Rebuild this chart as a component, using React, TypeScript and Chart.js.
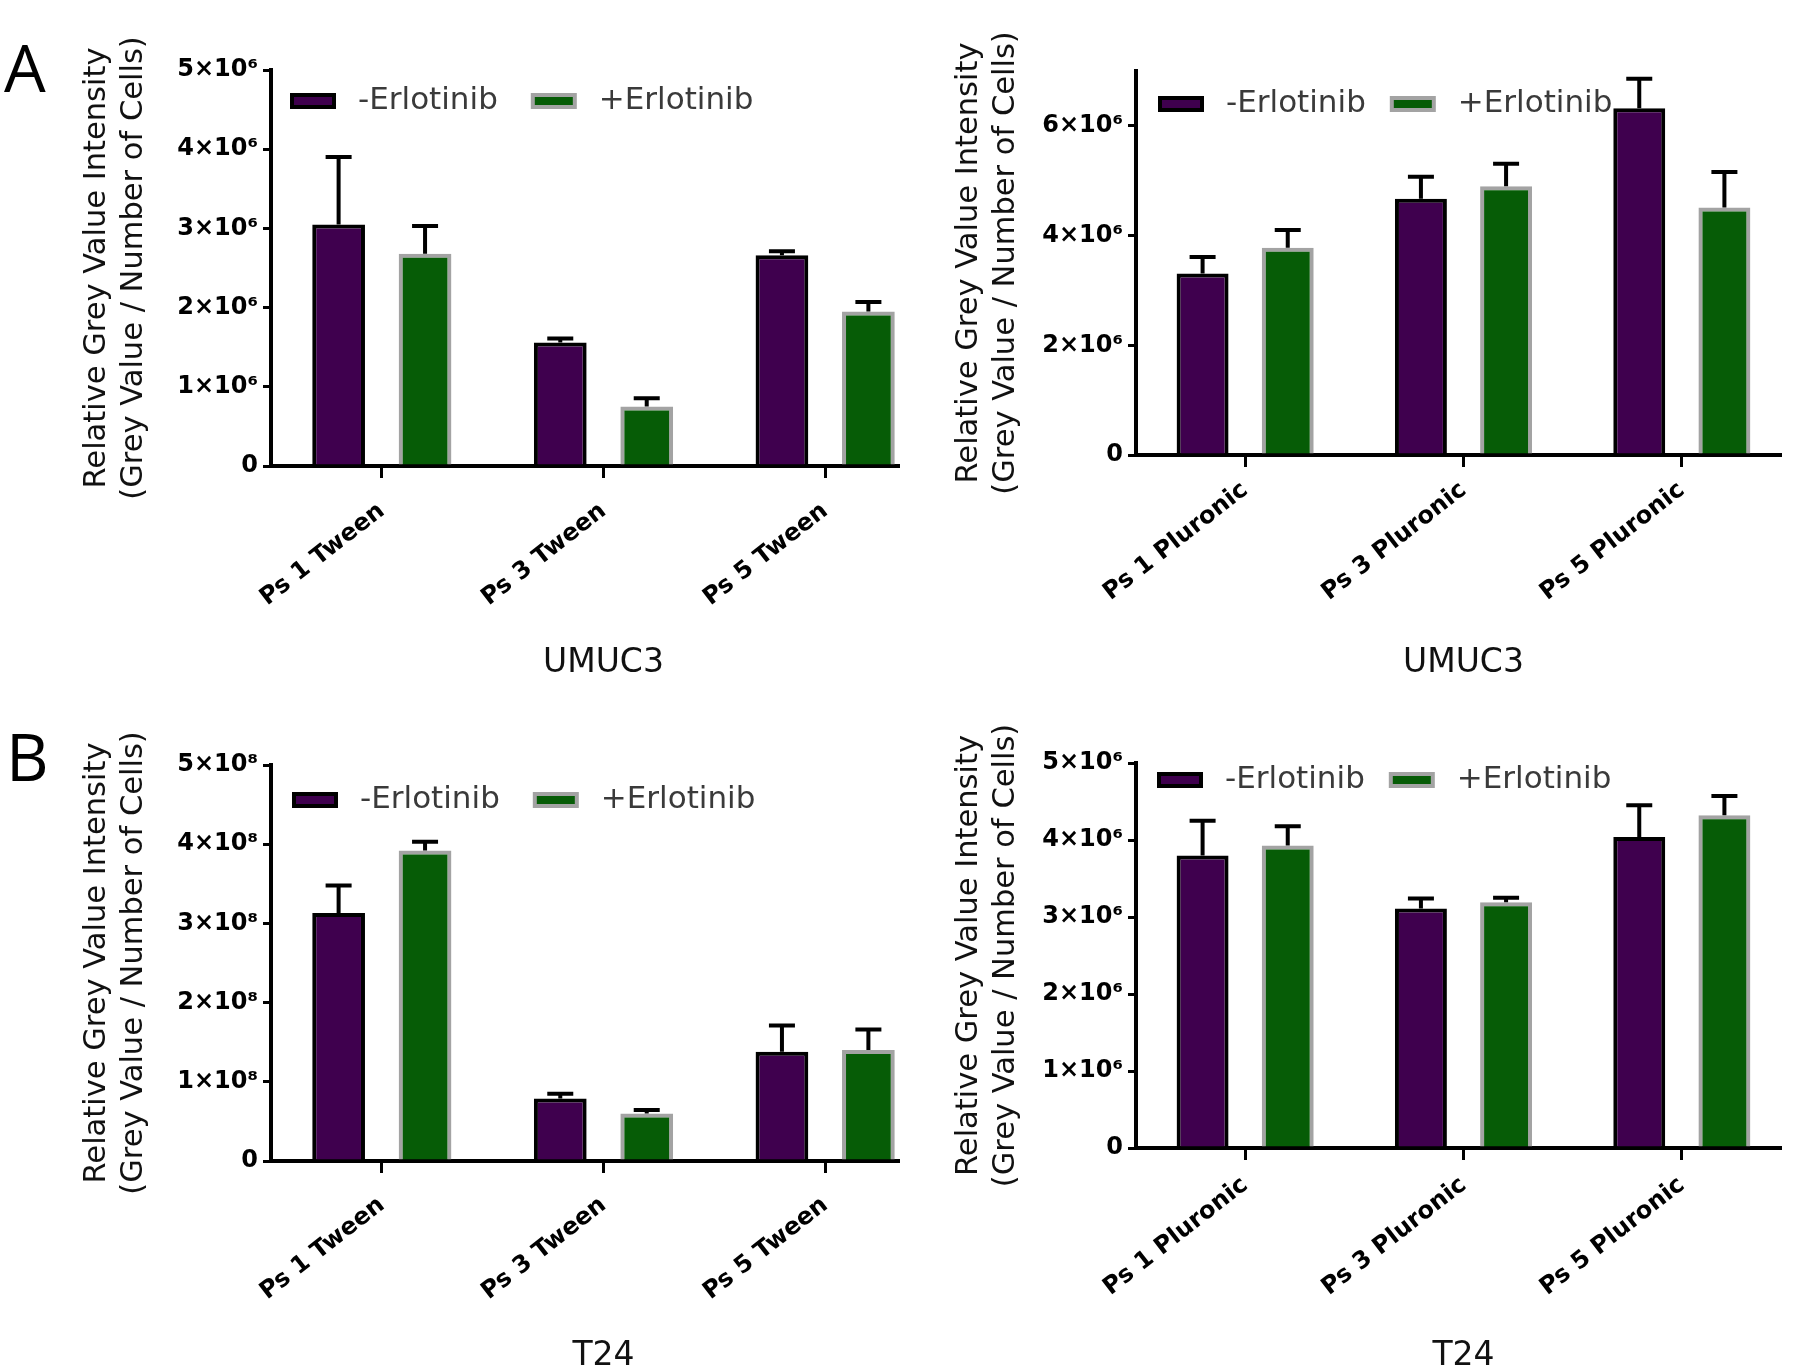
import React, { useEffect, useRef } from 'react';
import { Chart, registerables } from 'chart.js';

Chart.register(...registerables);

// ---------- data ----------
const seriesLabels = ['-Erlotinib', '+Erlotinib'];
const tweenCategories = ['Ps 1 Tween', 'Ps 3 Tween', 'Ps 5 Tween'];
const pluronicCategories = ['Ps 1 Pluronic', 'Ps 3 Pluronic', 'Ps 5 Pluronic'];

// A (left): UMUC3, Tween
const umucTweenMinus = [3.05e6, 1.56e6, 2.66e6];
const umucTweenMinusErr = [0.85e6, 0.05e6, 0.05e6];
const umucTweenPlus = [2.68e6, 0.75e6, 1.95e6];
const umucTweenPlusErr = [0.35e6, 0.105e6, 0.12e6];
const umucTweenTicks = [0, 1e6, 2e6, 3e6, 4e6, 5e6];
const umucTweenTickLabels = ['0', '1×10⁶', '2×10⁶', '3×10⁶', '4×10⁶', '5×10⁶'];

// A (right): UMUC3, Pluronic
const umucPluronicMinus = [3.31e6, 4.67e6, 6.32e6];
const umucPluronicMinusErr = [0.3e6, 0.4e6, 0.54e6];
const umucPluronicPlus = [3.78e6, 4.9e6, 4.51e6];
const umucPluronicPlusErr = [0.32e6, 0.41e6, 0.65e6];
const umucPluronicTicks = [0, 2e6, 4e6, 6e6];
const umucPluronicTickLabels = ['0', '2×10⁶', '4×10⁶', '6×10⁶'];

// B (left): T24, Tween
const t24TweenMinus = [3.13e8, 0.79e8, 1.38e8];
const t24TweenMinusErr = [0.35e8, 0.06e8, 0.33e8];
const t24TweenPlus = [3.92e8, 0.6e8, 1.4e8];
const t24TweenPlusErr = [0.11e8, 0.045e8, 0.26e8];
const t24TweenTicks = [0, 1e8, 2e8, 3e8, 4e8, 5e8];
const t24TweenTickLabels = ['0', '1×10⁸', '2×10⁸', '3×10⁸', '4×10⁸', '5×10⁸'];

// B (right): T24, Pluronic
const t24PluronicMinus = [3.8e6, 3.11e6, 4.04e6];
const t24PluronicMinusErr = [0.45e6, 0.13e6, 0.41e6];
const t24PluronicPlus = [3.93e6, 3.19e6, 4.32e6];
const t24PluronicPlusErr = [0.25e6, 0.06e6, 0.25e6];
const t24PluronicTicks = [0, 1e6, 2e6, 3e6, 4e6, 5e6];
const t24PluronicTickLabels = ['0', '1×10⁶', '2×10⁶', '3×10⁶', '4×10⁶', '5×10⁶'];

const yTitleLines = ['Relative Grey Value Intensity', '(Grey Value / Number of Cells)'];

// ---------- styles ----------
const PURPLE = '#3f004e';
const GREEN = '#065c06';
const GREEN_EDGE = '#a3a3a3';
const FONT = 'DejaVu Sans';

type Panel = {
  key: string;
  boxLeft: number; boxTop: number; boxWidth: number; boxHeight: number;
  canvasWidth: number; canvasHeight: number;
  area: { left: number; top: number; right: number; bottom: number };
  categories: string[];
  minus: number[]; minusErr: number[];
  plus: number[]; plusErr: number[];
  yMax: number; ticks: number[]; tickLabels: string[];
  xTitle: string;
  yTitlePad: number;
  xTitlePad: number; xTitleLH: number;
  xTickPad: number;
  legendDx: number; legendDy: number; legendGap: number;
};

const panels: Panel[] = [
  {
    key: 'a-left', boxLeft: 0, boxTop: 0, boxWidth: 900, boxHeight: 683,
    canvasWidth: 960, canvasHeight: 683,
    area: { left: 271, top: 70, right: 936, bottom: 466 },
    categories: tweenCategories,
    minus: umucTweenMinus, minusErr: umucTweenMinusErr,
    plus: umucTweenPlus, plusErr: umucTweenPlusErr,
    yMax: 5e6, ticks: umucTweenTicks, tickLabels: umucTweenTickLabels,
    xTitle: 'UMUC3', yTitlePad: 79, xTitlePad: 0, xTitleLH: 1.2, xTickPad: 19,
    legendDx: 19, legendDy: 31, legendGap: 33,
  },
  {
    key: 'a-right', boxLeft: 900, boxTop: 0, boxWidth: 882, boxHeight: 683,
    canvasWidth: 900, canvasHeight: 683,
    area: { left: 236, top: 71, right: 891, bottom: 455 },
    categories: pluronicCategories,
    minus: umucPluronicMinus, minusErr: umucPluronicMinusErr,
    plus: umucPluronicPlus, plusErr: umucPluronicPlusErr,
    yMax: 7e6, ticks: umucPluronicTicks, tickLabels: umucPluronicTickLabels,
    xTitle: 'UMUC3', yTitlePad: 51, xTitlePad: 0, xTitleLH: 1.2, xTickPad: 9,
    legendDx: 22, legendDy: 33, legendGap: 24,
  },
  {
    key: 'b-left', boxLeft: 0, boxTop: 683, boxWidth: 900, boxHeight: 684,
    canvasWidth: 960, canvasHeight: 684,
    area: { left: 271, top: 82, right: 936, bottom: 478 },
    categories: tweenCategories,
    minus: t24TweenMinus, minusErr: t24TweenMinusErr,
    plus: t24TweenPlus, plusErr: t24TweenPlusErr,
    yMax: 5e8, ticks: t24TweenTicks, tickLabels: t24TweenTickLabels,
    xTitle: 'T24', yTitlePad: 79, xTitlePad: 1, xTitleLH: 0.6, xTickPad: 18,
    legendDx: 21, legendDy: 35, legendGap: 33,
  },
  {
    key: 'b-right', boxLeft: 900, boxTop: 683, boxWidth: 882, boxHeight: 684,
    canvasWidth: 900, canvasHeight: 684,
    area: { left: 236, top: 80, right: 891, bottom: 465 },
    categories: pluronicCategories,
    minus: t24PluronicMinus, minusErr: t24PluronicMinusErr,
    plus: t24PluronicPlus, plusErr: t24PluronicPlusErr,
    yMax: 5e6, ticks: t24PluronicTicks, tickLabels: t24PluronicTickLabels,
    xTitle: 'T24', yTitlePad: 51, xTitlePad: 1, xTitleLH: 0.6, xTickPad: 11,
    legendDx: 21, legendDy: 17, legendGap: 24,
  },
];

// ---------- plugins ----------
const errorBarPlugin = {
  id: 'errorBars',
  afterDatasetsDraw(chart: any, _args: any, opts: any) {
    const ctx = chart.ctx;
    const yScale = chart.scales.y;
    const errs: number[][] = opts.errors || [];
    chart.data.datasets.forEach((ds: any, di: number) => {
      const meta = chart.getDatasetMeta(di);
      meta.data.forEach((bar: any, i: number) => {
        const v = ds.data[i] as number;
        const e = errs[di] ? errs[di][i] : 0;
        if (!e) return;
        const yBar = yScale.getPixelForValue(v);
        const yTop = yScale.getPixelForValue(v + e);
        ctx.save();
        ctx.strokeStyle = '#000';
        ctx.lineWidth = opts.lineWidth || 4;
        ctx.lineCap = 'butt';
        ctx.beginPath();
        ctx.moveTo(bar.x, yBar);
        ctx.lineTo(bar.x, yTop);
        ctx.moveTo(bar.x - opts.capHalf, yTop);
        ctx.lineTo(bar.x + opts.capHalf, yTop);
        ctx.stroke();
        ctx.restore();
      });
    });
  },
};

const insideLegendPlugin = {
  id: 'insideLegend',
  afterDraw(chart: any, _args: any, opts: any) {
    const { ctx, chartArea } = chart;
    let x = chartArea.left + opts.dx;
    const cy = chartArea.top + opts.dy;
    ctx.save();
    ctx.font = opts.font;
    ctx.textBaseline = 'middle';
    ctx.textAlign = 'left';
    chart.data.datasets.forEach((ds: any) => {
      const w = opts.boxW, h = opts.boxH, b = opts.border;
      ctx.fillStyle = ds.borderColor;
      ctx.fillRect(x, cy - h / 2, w, h);
      ctx.fillStyle = ds.backgroundColor;
      ctx.fillRect(x + b, cy - h / 2 + b, w - 2 * b, h - 2 * b);
      x += w + opts.gapText;
      ctx.fillStyle = opts.color;
      ctx.fillText(ds.label, x, cy);
      x += ctx.measureText(ds.label).width + opts.gapItem;
    });
    ctx.restore();
  },
};

function PanelChart({ panel }: { panel: Panel }) {
  const ref = useRef<HTMLCanvasElement | null>(null);
  useEffect(() => {
    const canvas = ref.current;
    if (!canvas) return;
    const p = panel;
    const chart = new Chart(canvas, {
      type: 'bar',
      data: {
        labels: p.categories,
        datasets: [
          {
            label: seriesLabels[0], data: p.minus,
            backgroundColor: PURPLE, borderColor: '#000', borderWidth: 4,
            borderSkipped: 'start', categoryPercentage: 0.78, barPercentage: 0.61,
          },
          {
            label: seriesLabels[1], data: p.plus,
            backgroundColor: GREEN, borderColor: GREEN_EDGE, borderWidth: 4,
            borderSkipped: 'start', categoryPercentage: 0.78, barPercentage: 0.61,
          },
        ],
      },
      options: {
        responsive: false,
        animation: false,
        devicePixelRatio: 1,
        events: [],
        layout: {
          padding: { left: 0, top: p.area.top, right: p.canvasWidth - p.area.right, bottom: 0 },
        },
        plugins: {
          legend: { display: false },
          tooltip: { enabled: false },
          errorBars: { errors: [p.minusErr, p.plusErr], capHalf: 13, lineWidth: 4 },
          insideLegend: {
            dx: p.legendDx, dy: p.legendDy, boxW: 46, boxH: 16, border: 4,
            gapText: 22, gapItem: p.legendGap, font: `31px "${FONT}"`, color: '#3a3a3a',
          },
        } as any,
        scales: {
          x: {
            type: 'category',
            offset: true,
            grid: {
              display: true, drawOnChartArea: false, drawTicks: true, offset: false,
              tickLength: 12, color: '#000', lineWidth: 3,
            },
            border: { display: true, color: '#000', width: 4 },
            ticks: {
              autoSkip: false, maxRotation: 38, minRotation: 38, padding: p.xTickPad,
              color: '#000', font: { family: FONT, weight: 'bold', size: 24 },
            },
            title: {
              display: true, text: p.xTitle, color: '#111',
              font: { family: FONT, size: 33, lineHeight: p.xTitleLH },
              padding: { top: 0, bottom: p.xTitlePad },
            },
            afterFit: (s: any) => { s.height = p.canvasHeight - p.area.bottom; },
          },
          y: {
            type: 'linear',
            min: 0, max: p.yMax,
            grid: {
              display: true, drawOnChartArea: false, drawTicks: true,
              tickLength: 8, color: '#000', lineWidth: 3,
            },
            border: { display: true, color: '#000', width: 4 },
            afterBuildTicks: (s: any) => { s.ticks = p.ticks.map((v) => ({ value: v })); },
            ticks: {
              padding: 5, color: '#000',
              font: { family: FONT, weight: 'bold', size: 24 },
              callback: (value: any) => {
                const idx = p.ticks.indexOf(Number(value));
                return idx >= 0 ? p.tickLabels[idx] : '';
              },
            },
            title: {
              display: true, text: yTitleLines, color: '#111',
              font: { family: FONT, size: 30.5, lineHeight: 1.21 },
              padding: { top: p.yTitlePad, bottom: 0 },
            },
            afterFit: (s: any) => { s.width = p.area.left; },
          },
        },
      } as any,
      plugins: [errorBarPlugin, insideLegendPlugin],
    });
    return () => chart.destroy();
  }, [panel]);
  return (
    <canvas
      ref={ref}
      width={panel.canvasWidth}
      height={panel.canvasHeight}
      style={{ position: 'absolute', left: 0, top: 0, width: panel.canvasWidth, height: panel.canvasHeight }}
    />
  );
}

export default function App() {
  return (
    <div style={{ position: 'absolute', left: 0, top: 0, width: 1800, height: 1367, background: '#fff', overflow: 'hidden' }}>
      {panels.map((p) => (
        <div
          key={p.key}
          style={{ position: 'absolute', left: p.boxLeft, top: p.boxTop, width: p.boxWidth, height: p.boxHeight, overflow: 'hidden' }}
        >
          <PanelChart panel={p} />
        </div>
      ))}
      <div style={{ position: 'absolute', left: 4, top: 33, fontFamily: '"Open Sans", sans-serif', fontSize: 66, lineHeight: 1, color: '#000' }}>A</div>
      <div style={{ position: 'absolute', left: 6, top: 722, fontFamily: '"Open Sans", sans-serif', fontSize: 66, lineHeight: 1, color: '#000' }}>B</div>
    </div>
  );
}
